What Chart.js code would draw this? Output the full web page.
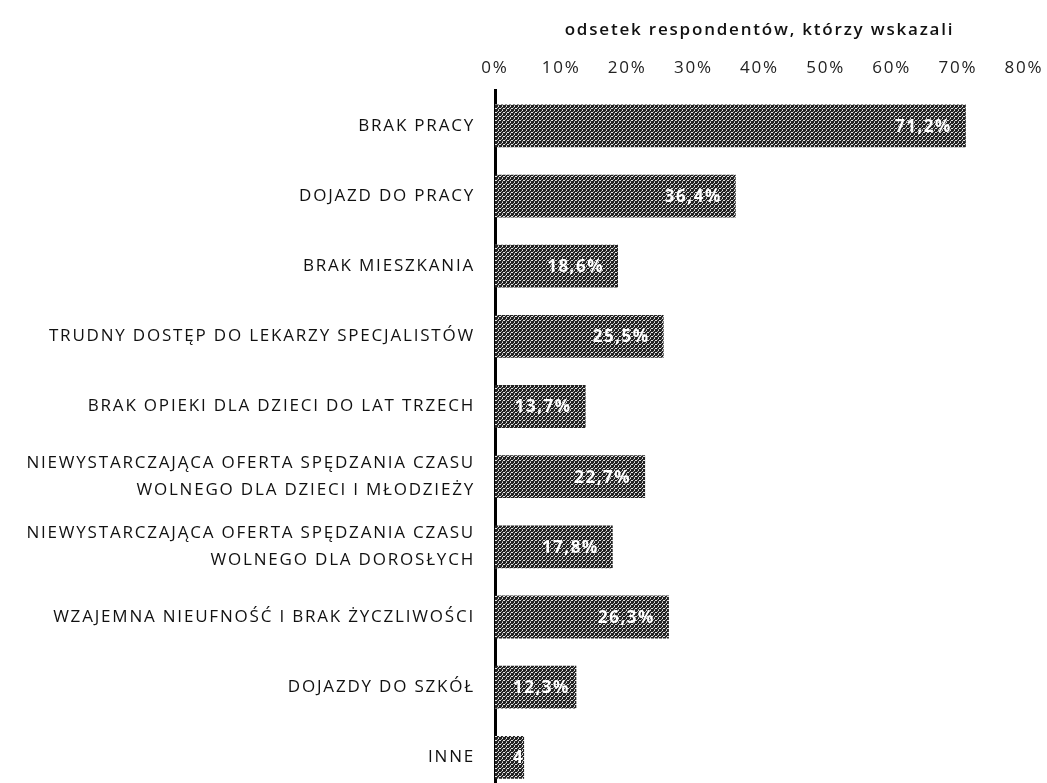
<!DOCTYPE html>
<html><head><meta charset="utf-8">
<script src="https://cdn.jsdelivr.net/npm/chart.js@4.4.1/dist/chart.umd.min.js"></script>
<style>
html,body{margin:0;padding:0;background:#fff;overflow:hidden;width:1047px;height:783px}
#wrap{position:relative;width:1047px;height:826px}
</style></head><body>
<div id="wrap"><canvas id="c" width="1047" height="826"></canvas></div>
<script>
const categories = [
  "BRAK PRACY",
  "DOJAZD DO PRACY",
  "BRAK MIESZKANIA",
  "TRUDNY DOSTĘP DO LEKARZY SPECJALISTÓW",
  "BRAK OPIEKI DLA DZIECI DO LAT TRZECH",
  ["NIEWYSTARCZAJĄCA OFERTA SPĘDZANIA CZASU", "WOLNEGO DLA DZIECI I MŁODZIEŻY"],
  ["NIEWYSTARCZAJĄCA OFERTA SPĘDZANIA CZASU", "WOLNEGO DLA DOROSŁYCH"],
  "WZAJEMNA NIEUFNOŚĆ I BRAK ŻYCZLIWOŚCI",
  "DOJAZDY DO SZKÓŁ",
  "INNE"
];
const values = [71.2, 36.4, 18.6, 25.5, 13.7, 22.7, 17.8, 26.3, 12.3, 4.4];
const valueLabels = ["71,2%", "36,4%", "18,6%", "25,5%", "13,7%", "22,7%", "17,8%", "26,3%", "12,3%", "4"];
const xTicks = [0, 10, 20, 30, 40, 50, 60, 70, 80];
const axisTitle = "odsetek respondentów, którzy wskazali";

const FONT = "'Open Sans', sans-serif";
const SPACING = '1.8px';

// halftone-like bar fill
function makePattern(){
  const p = document.createElement('canvas');
  p.width = 4; p.height = 4;
  const g = p.getContext('2d');
  g.fillStyle = '#222'; g.fillRect(0,0,4,4);
  g.fillStyle = '#e6e6e6';
  g.fillRect(0,0,1,1); g.fillRect(2,2,1,1); g.fillRect(3,0,1,1);
  g.fillStyle = '#a0a0a0';
  g.fillRect(1,3,1,1); g.fillRect(2,1,1,1);
  return document.getElementById('c').getContext('2d').createPattern(p,'repeat');
}

const spacingPlugin = {
  id: 'spacing',
  beforeUpdate(chart){ chart.ctx.letterSpacing = SPACING; },
  beforeDraw(chart){ chart.ctx.letterSpacing = SPACING; }
};

const valueLabelPlugin = {
  id: 'valueLabels',
  afterDatasetsDraw(chart){
    const ctx = chart.ctx;
    const meta = chart.getDatasetMeta(0);
    ctx.save();
    ctx.letterSpacing = '1.5px';
    ctx.font = "bold 17px " + FONT;
    ctx.fillStyle = '#ffffff';
    ctx.textAlign = 'right';
    ctx.textBaseline = 'middle';
    meta.data.forEach((bar, i) => {
      const w = ctx.measureText(valueLabels[i]).width;
      const x = Math.max(bar.x - 14, bar.base + w + 18);
      ctx.fillText(valueLabels[i], x, bar.y + 1);
    });
    ctx.restore();
  }
};

new Chart(document.getElementById('c'), {
  type: 'bar',
  data: {
    labels: categories,
    datasets: [{
      data: values,
      backgroundColor: makePattern(),
      borderWidth: 0,
      barPercentage: 0.61,
      categoryPercentage: 1.0
    }]
  },
  plugins: [spacingPlugin, valueLabelPlugin],
  options: {
    indexAxis: 'y',
    responsive: false,
    animation: false,
    layout: { padding: { top: 20, right: 23, left: 0, bottom: 0 } },
    plugins: { legend: { display: false }, tooltip: { enabled: false } },
    scales: {
      x: {
        position: 'top',
        min: 0, max: 80,
        afterBuildTicks(scale){ scale.ticks = xTicks.map(v => ({value: v})); },
        afterFit(scale){ scale.paddingRight = 23; scale.paddingLeft = 0; },
        ticks: {
          callback: v => v + '%',
          color: '#222',
          font: { family: FONT, size: 17 },
          padding: 12
        },
        grid: { display: false, drawTicks: false },
        border: { display: false },
        title: {
          display: true,
          text: axisTitle,
          color: '#111',
          font: { family: FONT, size: 17, weight: '600' },
          padding: { top: 0, bottom: 6 }
        }
      },
      y: {
        afterFit(scale){ scale.width = 495; },
        ticks: {
          color: '#111',
          font: { family: FONT, size: 17, lineHeight: 1.6 },
          padding: 20,
          autoSkip: false
        },
        grid: { display: false, drawTicks: false },
        border: { display: true, color: '#000', width: 3 }
      }
    }
  }
});
</script>
</body></html>
